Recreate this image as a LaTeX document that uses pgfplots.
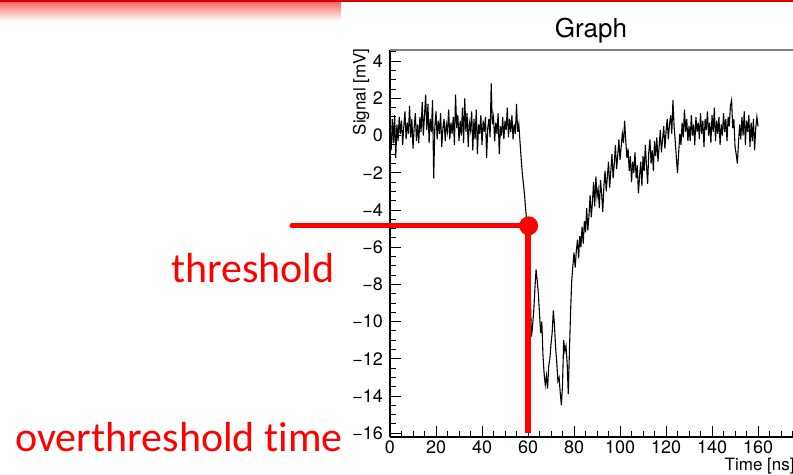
\documentclass[border=0pt]{standalone}
\usepackage{pgfplots}
\pgfplotsset{compat=1.18}
\usepackage{fontspec}
\setmainfont{TeX Gyre Heros}
\newfontfamily\slidefont[Ligatures=NoCommon]{Carlito}
\definecolor{slidered}{RGB}{255,0,0}
\begin{document}
\begin{tikzpicture}[x=1pt,y=1pt]
\useasboundingbox (0,0) rectangle (396.5,237.5);
% slide header band
\shade[top color=red!65, bottom color=white] (0,227) rectangle (170.5,237.5);
\fill[red!85!black] (0,236.6) rectangle (396.5,237.5);
\begin{axis}[
  at={(195pt,19pt)}, anchor=south west,
  scale only axis, width=201.5pt, height=193.5pt,
  xmin=0, xmax=175.2, ymin=-16.2, ymax=4.6,
  axis x line*=bottom, axis y line*=left,
  axis line style={black, line width=0.6pt, -},
  tick align=inside,
  major tick length=5.5pt, minor tick length=2.8pt,
  every tick/.style={black, line width=0.5pt},
  xtick={0,20,...,160},
  minor xtick={0,5,...,175},
  ytick={-16,-14,...,4},
  yticklabels={−16,−14,−12,−10,−8,−6,−4,−2,0,2,4},
  minor ytick={-16,-15.5,...,4.5},
  ticklabel style={font=\fontsize{9}{10}\selectfont},
  xticklabel style={yshift=1.5pt},
  /pgf/number format/assume math mode=true,
  clip=false,
]
% waveform: signal [mV] against time [ns]
\addplot[black, line width=0.55pt] coordinates {
(0,0.2)(0.5,-0.8)(1,0.9)(1.5,-0.4)(2,1.1)(2.5,-1.2)(3,0.6)(3.5,-0.3)(4,1.0)(4.5,0.1)
(5,0.8)(5.5,-0.5)(6,0.5)(6.5,1.3)(7,-0.2)(7.5,0.7)(8,0.1)(8.5,1.6)(9,-0.1)(9.5,0.9)
(10,-0.7)(10.5,0.4)(11,1.2)(11.5,-0.3)(12,0.6)(12.5,-0.4)(13,1.0)(13.5,0.2)(14,1.8)(14.5,0.0)
(15,1.1)(15.5,2.2)(16,0.3)(16.5,1.7)(17,-0.4)(17.5,0.9)(18,0.2)(18.5,1.9)(19,-2.3)(19.5,0.5)
(20,1.3)(20.5,-0.2)(21,0.8)(21.5,0.1)(22,1.2)(22.5,-0.6)(23,0.4)(23.5,0.9)(24,-0.3)(24.5,0.6)
(25,0.2)(25.5,1.4)(26,-0.2)(26.5,0.7)(27,0.1)(27.5,1.0)(28,-0.5)(28.5,2.2)(29,0.4)(29.5,1.1)
(30,-0.3)(30.5,0.8)(31,0.0)(31.5,1.5)(32,-0.4)(32.5,2.0)(33,0.2)(33.5,1.2)(34,-0.6)(34.5,0.7)
(35,0.3)(35.5,1.3)(36,-0.8)(36.5,0.9)(37,-0.2)(37.5,1.4)(38,-1.0)(38.5,0.6)(39,0.1)(39.5,1.1)
(40,-0.5)(40.5,0.8)(41,0.2)(41.5,1.0)(42,-1.2)(42.5,0.4)(43,0.9)(43.5,-0.1)(44,2.8)(44.5,0.6)
(45,1.0)(45.5,-0.3)(46,0.7)(46.5,0.1)(47,1.2)(47.5,-1.0)(48,0.5)(48.5,0.0)(49,1.0)(49.5,-0.2)
(50,0.8)(50.5,0.3)(51,1.5)(51.5,-0.1)(52,0.9)(52.5,0.2)(53,1.1)(53.5,-0.2)(54,0.6)(54.5,0.1)
(55,1.7)(55.5,0.2)(56,0.6)(56.5,-0.3)(57,-1.2)(57.5,-2.0)(58,-2.6)(58.5,-3.2)(59,-4.0)(59.5,-4.7)
(60,-5.4)(60.5,-6.6)(61,-8.6)(61.5,-10.8)(62,-10.2)(62.5,-9.4)(63,-8.2)(63.5,-7.2)(64,-7.8)(64.5,-8.5)
(65,-9.6)(65.5,-10.6)(66,-10.0)(66.5,-11.8)(67,-12.8)(67.5,-13.4)(68,-12.9)(68.5,-13.6)(69,-12.4)(69.5,-12.0)
(70,-11.2)(70.5,-10.6)(71,-9.4)(71.5,-10.2)(72,-11.4)(72.5,-12.2)(73,-13.2)(73.5,-13.0)(74,-13.8)(74.5,-14.5)
(75,-13.4)(75.5,-11.0)(76,-11.6)(76.5,-11.3)(77,-12.2)(77.5,-13.9)(78,-11.6)(78.5,-9.5)(79,-7.8)(79.5,-7.0)
(80,-6.3)(80.5,-7.1)(81,-6.2)(81.5,-5.6)(82,-6.6)(82.5,-5.4)(83,-6.0)(83.5,-4.9)(84,-5.8)(84.5,-4.6)
(85,-5.2)(85.5,-3.9)(86,-5.1)(86.5,-4.3)(87,-3.2)(87.5,-4.4)(88,-3.6)(88.5,-2.5)(89,-3.8)(89.5,-2.2)
(90,-3.3)(90.5,-2.9)(91,-3.9)(91.5,-2.4)(92,-3.1)(92.5,-4.1)(93,-2.7)(93.5,-1.9)(94,-3.0)(94.5,-2.2)
(95,-1.4)(95.5,-2.8)(96,-1.9)(96.5,-1.0)(97,-2.3)(97.5,-1.5)(98,-0.5)(98.5,-1.8)(99,-1.1)(99.5,-0.2)
(100,-1.3)(100.5,-0.6)(101,0.1)(101.5,-0.4)(102,0.8)(102.5,-0.3)(103,-1.2)(103.5,-0.7)(104,-1.9)(104.5,-1.1)
(105,-2.5)(105.5,-1.4)(106,-2.0)(106.5,-0.9)(107,-2.3)(107.5,-1.6)(108,-3.1)(108.5,-2.2)(109,-1.4)(109.5,-2.7)
(110,-1.1)(110.5,-1.9)(111,-0.5)(111.5,-1.6)(112,-2.6)(112.5,-0.9)(113,-0.2)(113.5,-1.5)(114,-0.8)(114.5,-1.9)
(115,-0.3)(115.5,-1.1)(116,-0.1)(116.5,-1.4)(117,-0.6)(117.5,0.3)(118,-0.9)(118.5,-0.2)(119,0.5)(119.5,-0.7)
(120,0.2)(120.5,0.9)(121,-0.2)(121.5,0.6)(122,1.1)(122.5,0.1)(123,1.9)(123.5,0.5)(124,-0.3)(124.5,-1.2)
(125,-2.0)(125.5,-0.9)(126,0.1)(126.5,-0.5)(127,0.7)(127.5,-0.1)(128,1.4)(128.5,0.2)(129,0.9)(129.5,-0.3)
(130,0.5)(130.5,-0.3)(131,1.1)(131.5,0.0)(132,0.6)(132.5,-0.5)(133,1.0)(133.5,0.2)(134,0.7)(134.5,-0.2)
(135,1.2)(135.5,0.1)(136,0.8)(136.5,-0.6)(137,0.9)(137.5,0.3)(138,1.3)(138.5,0.0)(139,0.7)(139.5,-0.4)
(140,1.1)(140.5,0.2)(141,1.5)(141.5,-0.3)(142,0.8)(142.5,0.1)(143,1.0)(143.5,-0.5)(144,0.6)(144.5,0.0)
(145,1.2)(145.5,0.2)(146,0.9)(146.5,-0.3)(147,1.0)(147.5,0.5)(148,1.6)(148.5,1.9)(149,0.4)(149.5,0.9)
(150,-0.6)(150.5,-1.0)(151,-1.5)(151.5,-0.4)(152,0.6)(152.5,-0.2)(153,1.0)(153.5,0.0)(154,1.3)(154.5,-0.5)
(155,0.8)(155.5,0.2)(156,1.1)(156.5,-0.6)(157,0.7)(157.5,-0.3)(158,0.9)(158.5,-0.8)(159,0.4)(159.5,1.0)
(160,0.5)
};
% frame line along the top of the plot area
\draw[gray, line width=0.8pt] (rel axis cs:0,1) -- (rel axis cs:1,1);
% threshold level and the time at which it is crossed
\addplot[slidered, line width=2.6pt, line cap=round] coordinates {(-42.6,-4.85) (60.3,-4.85)};
\addplot[slidered, line width=2.8pt] coordinates {(60,-4.85) (60,-16)};
\addplot[slidered, only marks, mark=*, mark size=4.5pt, mark options={fill=slidered, draw=slidered}] coordinates {(60.3,-4.85)};
\end{axis}
\node[anchor=base, inner sep=0pt, font=\fontsize{13}{15}\selectfont] at (295.5,218.5) {Graph};
\node[rotate=90, anchor=east, inner sep=0pt, font=\fontsize{8.5}{10}\selectfont] at (180.5,213.5) {Signal [mV]};
\node[anchor=base east, inner sep=0pt, font=\fontsize{8.5}{10}\selectfont] at (397.5,2) {Time [ns]};
\node[anchor=base east, inner sep=0pt, text=slidered, font=\slidefont\fontsize{21}{25}\selectfont] at (167.5,96) {threshold};
\node[anchor=base east, inner sep=0pt, text=slidered, font=\slidefont\fontsize{21}{25}\selectfont] at (171.5,11.5) {overthreshold time};
\end{tikzpicture}
\end{document}
